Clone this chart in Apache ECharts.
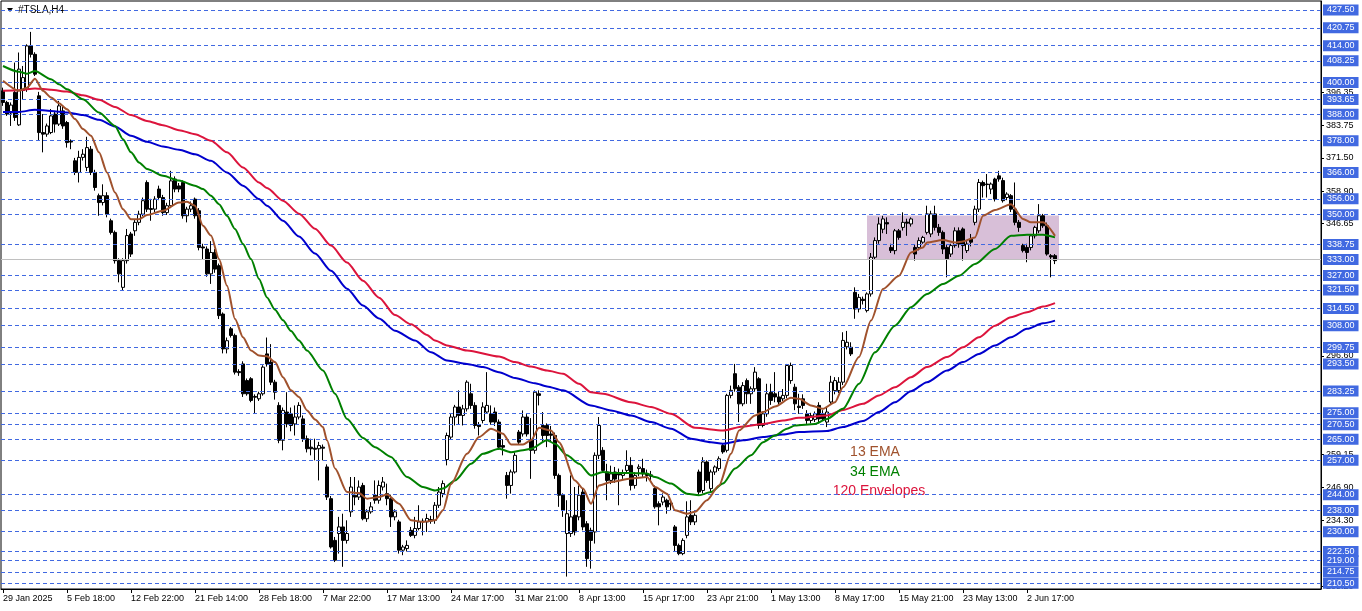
<!DOCTYPE html>
<html><head><meta charset="utf-8">
<script src="https://cdn.jsdelivr.net/npm/echarts@6/dist/echarts.min.js"></script>
<style>html,body{margin:0;padding:0;background:#fff}#c{width:1362px;height:611px}</style>
</head><body><div id="c"></div>
<script>
// ---- tick labels ----
const xLabels = ['29 Jan 2025','5 Feb 18:00','12 Feb 22:00','21 Feb 14:00','28 Feb 18:00','7 Mar 22:00','17 Mar 13:00','24 Mar 17:00','31 Mar 21:00','8 Apr 13:00','15 Apr 17:00','23 Apr 21:00','1 May 13:00','8 May 17:00','15 May 21:00','23 May 13:00','2 Jun 17:00'];
const labelEvery = 16;
const totalSlots = 330;
const levelLines = [427.50,420.75,414.00,408.25,400.00,393.65,388.00,378.00,366.00,356.00,350.00,338.75,327.00,321.50,314.50,308.00,299.75,293.50,283.25,275.00,270.50,265.00,257.00,244.00,238.00,230.00,222.50,219.00,214.75,210.50];
const priceLine = 333.00;
const scaleLabels = [396.35,383.75,371.50,358.90,346.65,296.60,259.15,246.90,234.30,209.20];
const zone = [216, 264, 349.7, 333.0]; // from bar, to bar, upper price, lower price
const notes = ['13 EMA','34 EMA','120 Envelopes'];

// ---- H4 candles: [open, close, low, high] ----
const candles = [
[396.9,392.5,391.2,398.1],[392.5,388.1,387.4,393.1],[388.5,391.5,383.6,392.5],[396.3,386.8,385.5,407.6],[384.0,405.1,383.6,411.4],
[397.0,401.9,393.7,406.3],[397.5,413.9,396.5,414.5],[413.9,410.7,409.5,419.2],[410.7,403.2,402.5,411.5],[395.0,381.1,378.0,396.5],
[381.1,380.5,373.6,388.1],[380.5,383.6,379.5,384.5],[381.1,387.4,380.5,390.0],[388.1,384.3,381.1,389.3],[384.3,391.2,383.6,393.1],
[389.3,383.6,382.5,391.0],[384.9,377.3,375.4,385.5],[377.8,377.5,374.8,378.5],[370.4,366.0,365.0,371.5],[366.0,371.7,362.2,374.2],
[371.7,372.9,370.5,374.8],[367.9,375.4,366.5,379.5],[374.8,366.0,365.0,376.0],[366.0,360.3,359.1,367.0],[357.2,354.6,349.6,358.0],
[354.6,357.2,353.5,361.5],[357.2,350.2,349.0,358.5],[347.7,343.3,342.5,348.5],[343.3,332.6,331.5,344.0],[332.6,327.6,324.4,333.5],
[322.5,332.6,321.3,333.5],[332.6,342.1,331.5,344.6],[342.7,335.1,334.0,343.5],[343.9,347.1,342.0,348.0],[347.1,350.2,346.0,351.5],
[350.2,355.3,349.5,356.5],[362.2,352.1,351.0,363.0],[352.3,352.0,347.7,356.0],[352.1,355.9,351.0,357.0],[359.7,356.5,355.5,361.0],
[356.5,350.8,349.6,357.5],[350.8,353.4,349.9,354.5],[353.4,362.8,352.5,366.6],[363.5,359.7,358.5,364.5],[360.9,359.7,358.5,362.0],
[362.2,349.6,348.5,363.0],[349.6,352.1,347.1,353.0],[352.1,353.4,351.0,355.0],[355.9,349.6,348.5,356.5],[351.5,337.6,336.5,352.5],
[337.8,337.4,333.2,339.0],[337.0,327.6,326.5,338.0],[327.6,335.7,323.8,340.0],[335.7,329.4,328.0,337.0],[330.7,311.8,310.5,331.5],
[312.4,299.2,297.5,313.0],[299.2,302.3,297.5,303.5],[306.8,304.3,303.5,307.5],[304.3,290.4,289.5,305.0],[290.6,290.2,289.0,291.5],
[293.5,282.2,281.0,294.5],[287.2,282.2,281.5,288.0],[287.9,279.7,279.0,288.5],[281.2,280.9,274.6,282.0],[280.3,282.2,279.5,283.0],
[282.2,292.3,281.5,293.0],[297.3,293.5,292.5,303.5],[294.2,286.6,285.5,301.0],[286.6,282.8,280.0,287.5],[277.8,264.6,263.5,279.0],
[264.6,275.9,260.8,277.0],[275.3,270.8,269.5,282.8],[274.6,270.2,268.0,277.0],[270.8,273.4,266.4,277.8],[273.4,277.8,272.5,279.0],
[272.7,265.2,264.0,274.0],[265.2,261.4,260.0,266.4],[262.0,261.4,258.9,265.2],[261.6,261.2,257.0,265.2],[261.4,262.6,249.4,264.0],
[262.0,261.6,257.0,263.0],[254.5,243.1,242.0,255.5],[242.5,224.2,223.6,243.5],[226.7,219.2,218.5,228.0],[229.3,231.8,221.7,235.6],
[231.8,226.7,216.7,236.8],[226.7,229.3,225.5,234.3],[237.5,246.9,235.6,250.7],[243.8,243.1,240.0,250.7],[243.1,246.9,242.0,249.4],
[247.5,234.9,234.3,248.5],[234.9,237.5,233.7,238.5],[237.5,239.4,236.8,241.2],[243.8,241.9,240.6,249.4],[241.9,247.5,240.6,249.4],
[246.9,248.8,245.6,250.7],[244.4,242.5,240.0,248.2],[242.5,235.6,231.8,244.0],[235.6,237.5,234.3,238.5],[233.7,223.0,221.7,234.5],
[223.0,224.2,221.1,225.0],[223.6,224.8,222.5,226.7],[230.5,228.6,228.0,231.8],[228.6,231.2,227.5,235.6],[231.2,233.7,230.5,240.0],
[234.0,233.7,228.6,235.0],[233.7,235.0,229.9,236.8],[234.6,234.0,233.0,236.0],[234.3,240.0,233.0,241.2],[240.0,245.0,239.0,246.9],
[244.4,248.2,243.0,249.4],[257.3,266.4,255.1,267.5],[265.8,273.4,265.0,274.5],[273.4,277.2,270.2,278.0],[277.2,274.0,270.5,283.5],
[274.0,276.5,270.2,278.0],[276.5,286.6,275.5,287.3],[282.2,277.8,276.5,286.0],[277.8,270.2,269.0,279.0],[270.5,269.8,266.4,271.5],
[272.1,277.2,271.0,279.0],[275.3,277.8,274.6,290.4],[274.6,271.5,270.5,277.8],[275.3,271.5,270.0,277.0],[271.5,262.0,261.0,272.5],
[262.6,262.0,258.9,265.0],[251.3,247.5,242.5,252.6],[247.5,252.6,244.4,253.5],[252.6,258.9,252.0,260.0],[267.7,263.9,263.0,268.5],
[267.0,273.4,266.0,275.9],[273.4,267.0,266.0,274.5],[264.6,260.8,250.0,273.0],[260.8,282.8,259.5,283.5],[282.2,281.6,277.8,283.5],
[270.2,266.4,264.0,275.3],[270.2,266.4,262.0,271.0],[267.0,266.5,264.0,270.0],[266.4,251.3,250.0,267.5],[251.3,243.8,239.4,252.0],
[243.8,238.1,235.6,244.5],[229.3,236.8,213.0,241.9],[229.3,235.6,228.0,251.3],[236.2,229.9,228.6,246.9],[235.6,243.8,234.3,247.5],
[245.0,231.8,230.5,246.3],[233.0,219.8,216.7,234.0],[230.5,226.7,216.0,231.5],[229.9,258.9,225.5,260.0],[258.9,270.2,257.5,273.4],
[260.8,253.2,252.6,262.0],[252.6,249.4,241.9,255.7],[249.4,251.9,248.0,255.0],[252.6,249.9,248.5,254.5],[252.0,251.5,240.0,253.9],
[251.3,252.0,250.0,253.5],[253.2,255.1,252.0,260.8],[255.1,247.5,245.6,258.2],[247.5,251.3,246.3,252.5],[253.9,254.5,251.0,255.5],
[253.9,251.9,250.5,257.6],[252.0,251.3,249.0,253.5],[251.5,251.0,249.5,253.0],[246.3,239.4,238.7,247.5],[240.6,239.4,232.4,241.5],
[241.2,243.1,240.0,244.5],[241.9,239.4,236.8,242.5],[240.8,240.4,238.1,241.5],[231.8,224.8,222.3,232.5],[224.8,221.7,221.1,225.5],
[221.7,226.7,221.1,227.5],[228.6,235.6,227.5,241.5],[236.2,233.7,232.5,241.9],[233.7,236.2,232.5,237.0],[252.6,245.0,244.0,253.5],
[245.6,256.4,244.5,258.2],[256.4,249.4,248.5,257.0],[246.3,252.6,245.0,253.5],[252.6,254.5,251.5,255.1],[253.9,257.6,253.0,258.5],
[262.6,260.2,259.5,263.5],[260.8,281.6,260.0,282.2],[281.6,283.5,280.5,285.3],[289.8,284.1,283.0,293.5],[284.7,278.4,271.5,285.5],
[278.4,285.3,277.5,286.6],[287.2,282.2,278.4,288.0],[282.2,284.1,278.4,285.0],[284.1,290.4,283.0,292.3],[287.9,270.2,269.0,288.5],
[270.2,274.6,269.5,275.5],[274.6,282.2,273.5,286.0],[282.8,279.7,278.0,286.0],[282.2,281.0,279.0,290.4],[281.0,279.1,278.0,283.0],
[280.3,281.6,279.5,284.0],[281.6,292.9,280.5,293.5],[287.2,292.9,286.0,294.0],[284.7,278.4,276.0,286.0],[277.5,277.0,274.6,282.2],
[280.3,277.8,276.5,282.0],[274.6,272.1,270.8,276.0],[272.1,273.9,271.0,275.0],[272.5,274.6,271.5,275.5],[277.8,272.7,271.0,279.0],
[274.6,272.7,272.0,276.0],[271.5,275.3,269.6,277.0],[279.1,286.6,278.0,289.0],[283.4,287.2,282.0,288.5],[283.4,286.6,282.5,288.5],
[286.6,302.4,285.5,305.5],[300.0,301.7,299.0,306.0],[299.8,297.3,296.5,301.7],[320.6,314.3,310.6,322.5],[314.3,318.7,313.0,320.0],
[318.0,317.5,316.0,319.0],[313.7,320.0,313.0,320.6],[320.0,333.9,319.0,335.5],[333.9,340.2,333.0,341.4],[340.2,346.5,339.0,349.0],
[344.5,348.4,343.0,349.6],[347.0,346.5,342.7,349.0],[337.6,336.4,335.5,339.0],[336.4,343.9,335.0,344.6],[343.9,341.4,340.5,344.6],
[345.2,347.1,344.0,350.9],[347.2,346.8,342.0,348.5],[346.5,348.4,345.5,349.0],[337.6,335.1,332.6,338.5],[337.6,340.2,336.5,341.4],
[339.6,341.4,339.0,342.0],[343.3,350.3,342.5,353.4],[342.7,350.3,341.5,351.5],[350.3,345.2,344.0,353.4],[345.2,343.3,342.0,346.5],
[343.3,337.0,335.1,344.0],[337.6,333.3,326.3,338.5],[335.1,338.3,334.0,339.0],[338.3,343.9,337.5,345.2],[343.9,338.9,337.5,345.2],
[344.6,338.3,332.6,345.2],[336.4,338.9,335.5,340.0],[340.8,339.6,338.0,342.7],[347.1,352.1,346.0,353.4],[352.1,362.2,351.0,363.5],
[362.2,361.0,356.5,362.9],[361.6,361.4,356.5,365.4],[359.7,361.6,357.8,362.2],[363.5,355.9,355.0,364.0],[364.7,363.5,362.5,366.6],
[362.9,355.3,354.6,364.0],[356.5,357.8,355.5,358.5],[357.2,352.1,351.0,357.8],[352.1,347.1,346.0,362.2],[347.1,345.2,343.5,348.0],
[338.3,336.4,335.7,339.0],[337.6,335.7,332.0,339.0],[337.6,342.0,336.5,342.7],[342.0,345.2,341.0,345.8],[343.9,349.6,343.0,354.0],
[349.6,345.8,345.0,350.3],[345.8,335.1,334.5,347.0],[334.5,334.0,326.3,335.1],[334.5,332.6,331.3,335.1]
];

// ---- indicator lines, read at sampled bars: [bar, value] ----
const ema13 = [[0,400.7],[4,396.9],[6,398.1],[8,401.5],[10,396.9],[12,394.4],[14,392.2],[16,389.9],[18,386.2],[20,382.4],[22,379.9],[24,373.6],[26,366.0],[28,358.4],[30,352.1],[32,348.3],[34,348.3],[36,349.9],[40,351.5],[44,354.6],[46,354.9],[48,353.4],[50,345.8],[52,342.1],[54,333.2],[56,323.1],[58,310.5],[60,303.6],[62,298.6],[64,296.7],[66,296.4],[68,294.2],[70,288.5],[72,283.5],[74,281.0],[76,275.9],[78,272.5],[80,269.6],[81,264.6],[83,253.9],[86,245.0],[89,244.6],[91,242.5],[94,243.1],[96,244.1],[99,240.6],[102,234.3],[105,233.7],[108,234.3],[110,238.1],[112,248.0],[116,259.5],[119,265.8],[122,269.0],[125,267.1],[127,263.0],[130,263.0],[132,264.6],[134,269.3],[137,268.3],[139,263.9],[143,249.4],[145,246.3],[147,240.6],[149,247.5],[152,248.8],[157,250.1],[161,250.7],[163,246.9],[166,244.4],[168,238.1],[171,236.8],[173,237.5],[176,241.9],[179,247.5],[182,259.5],[184,268.3],[188,274.0],[190,275.3],[193,277.4],[197,280.7],[199,280.3],[202,277.8],[205,276.5],[208,279.0],[210,284.7],[214,296.1],[217,309.9],[220,321.9],[224,326.9],[227,335.7],[230,337.6],[231,339.5],[235,340.4],[238,339.5],[240,339.9],[243,341.4],[245,349.6],[248,351.8],[252,354.0],[255,348.4],[257,347.1],[260,347.1],[263,342.0]];
const ema34 = [[0,406.3],[4,404.1],[6,403.4],[8,404.4],[12,401.3],[14,399.4],[16,397.5],[20,393.7],[24,388.7],[28,383.6],[30,378.6],[32,373.6],[34,369.8],[36,367.3],[40,364.7],[44,362.9],[48,361.0],[50,359.7],[52,357.2],[54,354.0],[56,349.6],[58,344.6],[60,338.9],[62,333.2],[64,325.7],[66,318.7],[68,314.0],[70,310.0],[72,306.0],[74,302.4],[76,298.6],[80,291.0],[83,282.2],[86,272.7],[90,265.5],[93,262.0],[97,258.3],[101,250.7],[105,246.9],[108,245.6],[110,246.3],[113,249.4],[117,255.7],[120,259.5],[124,261.4],[127,260.1],[130,260.8],[132,261.4],[136,264.6],[138,263.3],[141,258.9],[144,255.7],[147,251.3],[150,252.6],[153,252.2],[157,252.2],[161,252.0],[163,250.7],[167,248.2],[171,244.4],[174,243.8],[177,245.0],[180,248.2],[183,253.9],[187,258.9],[190,263.9],[193,266.4],[196,269.0],[198,270.2],[203,270.8],[206,272.7],[210,276.5],[214,286.0],[218,297.9],[223,308.0],[227,315.0],[231,320.0],[235,323.8],[239,326.9],[243,331.3],[248,337.0],[252,342.0],[256,342.4],[260,342.4],[263,341.4]];
const envUpper = [[0,396.9],[4,397.1],[8,397.8],[12,397.3],[16,396.6],[20,395.2],[24,393.5],[28,390.8],[32,387.7],[36,385.5],[40,383.9],[44,382.0],[48,380.5],[52,378.0],[56,373.6],[60,367.9],[64,362.2],[66,360.1],[70,355.3],[74,350.4],[78,344.7],[82,338.3],[86,331.9],[90,325.0],[94,318.6],[98,312.0],[102,308.5],[106,304.5],[108,302.4],[111,300.5],[116,298.6],[124,296.3],[128,294.2],[132,292.5],[136,291.0],[140,289.8],[144,286.0],[147,282.8],[150,282.2],[157,279.0],[162,277.2],[167,274.6],[173,269.3],[180,268.3],[185,269.8],[190,270.8],[195,272.1],[199,273.1],[206,274.0],[210,276.1],[215,278.4],[219,281.6],[223,284.7],[227,288.5],[231,292.3],[236,296.1],[240,299.8],[244,303.6],[248,308.0],[252,311.2],[256,313.1],[260,315.2],[263,316.5]];
const envLower = [[0,388.9],[4,388.9],[8,389.7],[12,389.3],[16,388.7],[20,387.7],[24,385.9],[28,383.4],[32,379.9],[36,377.6],[40,375.8],[44,374.6],[48,372.9],[52,370.4],[56,366.0],[60,361.0],[64,355.9],[66,353.4],[70,347.7],[74,341.7],[78,335.3],[82,328.8],[86,322.0],[90,315.6],[94,310.7],[98,306.1],[103,302.4],[107,297.9],[111,294.8],[116,293.5],[120,292.3],[124,290.4],[128,288.2],[133,286.2],[136,285.0],[140,283.5],[147,277.8],[152,275.9],[157,274.0],[162,271.5],[167,269.0],[172,265.2],[177,263.9],[180,263.3],[185,264.6],[190,265.8],[195,266.8],[199,267.7],[206,268.1],[210,269.6],[215,271.9],[219,275.3],[223,279.0],[227,283.2],[231,286.6],[236,291.0],[240,294.2],[244,297.3],[248,300.5],[252,303.6],[256,306.8],[260,308.9],[263,309.9]];

const FONT = 'Liberation Sans';
const cats = Array.from({length: totalSlots}, (_, i) => String(i));
const isLabelSlot = (i) => i % labelEvery === 0 && i / labelEvery < xLabels.length;

function indicator(data, color) {
  return {type:'line', data, showSymbol:false, smooth:0.25, smoothMonotone:'x', z:5, silent:true,
    lineStyle:{color, width:2}, itemStyle:{color}};
}

const chart = echarts.init(document.getElementById('c'), null, {renderer:'canvas'});
chart.setOption({
  animation:false,
  backgroundColor:'#fff',
  grid:{left:1, right:41, top:1, bottom:22, show:true, borderColor:'#000', borderWidth:1, backgroundColor:'#fff'},
  xAxis:{type:'category', data:cats, boundaryGap:true,
    axisLine:{show:true, lineStyle:{color:'#000'}},
    axisTick:{show:true, alignWithLabel:true, interval:(i)=>isLabelSlot(i), length:4, lineStyle:{color:'#000'}},
    axisLabel:{interval:(i)=>isLabelSlot(i), formatter:(v,i)=> isLabelSlot(i) ? xLabels[i/labelEvery] : '', align:'left', margin:5, fontSize:9, fontFamily:FONT, color:'#000'},
    splitLine:{show:false}},
  yAxis:{type:'value', position:'right', min:208.3, max:430.9,
    axisLine:{show:true, lineStyle:{color:'#000'}},
    axisTick:{show:true, length:3, customValues:scaleLabels, lineStyle:{color:'#000'}},
    axisLabel:{customValues:scaleLabels, formatter:(v)=>v.toFixed(2), fontSize:9, fontFamily:FONT, color:'#000', margin:5},
    splitLine:{show:false}},
  series:[
    {type:'line', data:[], z:1, silent:true,
      markArea:{silent:true, itemStyle:{color:'#D8BFD8'},
        data:[[{xAxis:zone[0], yAxis:zone[2]},{xAxis:zone[1], yAxis:zone[3]}]]}},
    {type:'line', data:[], z:2, silent:true,
      markLine:{symbol:['none','none'], silent:true, animation:false,
        lineStyle:{color:'#4169E1', type:[4,3], width:1},
        label:{show:true, position:'end', distance:2, formatter:(p)=>p.value.toFixed(2), color:'#fff', backgroundColor:'#4169E1', padding:[1,4,1,4], fontSize:9, fontFamily:FONT},
        data: levelLines.map(v=>({yAxis:v})).concat([{yAxis:priceLine, lineStyle:{color:'#C0C0C0', type:'solid', width:1}}])}},
    {type:'candlestick', data:candles, barWidth:3, z:4, silent:true,
      itemStyle:{color:'#fff', color0:'#000', borderColor:'#000', borderColor0:'#000', borderWidth:1}},
    indicator(envUpper, '#DC143C'),
    indicator(envLower, '#0000CD'),
    indicator(ema34, '#008000'),
    indicator(ema13, '#A0522D')
  ],
  graphic:[
    {type:'polygon', shape:{points:[[7,8],[13,8],[10,12]]}, style:{fill:'#000'}},
    {type:'text', x:18, y:10, style:{text:'#TSLA,H4', font:'10px '+FONT, fill:'#000', verticalAlign:'middle'}},
    {type:'text', x:875, y:452, style:{text:notes[0], font:'14px '+FONT, fill:'#A0522D', align:'center', verticalAlign:'middle'}},
    {type:'text', x:875, y:472, style:{text:notes[1], font:'14px '+FONT, fill:'#008000', align:'center', verticalAlign:'middle'}},
    {type:'text', x:879, y:491, style:{text:notes[2], font:'14px '+FONT, fill:'#DC143C', align:'center', verticalAlign:'middle'}}
  ]
});
</script></body></html>
